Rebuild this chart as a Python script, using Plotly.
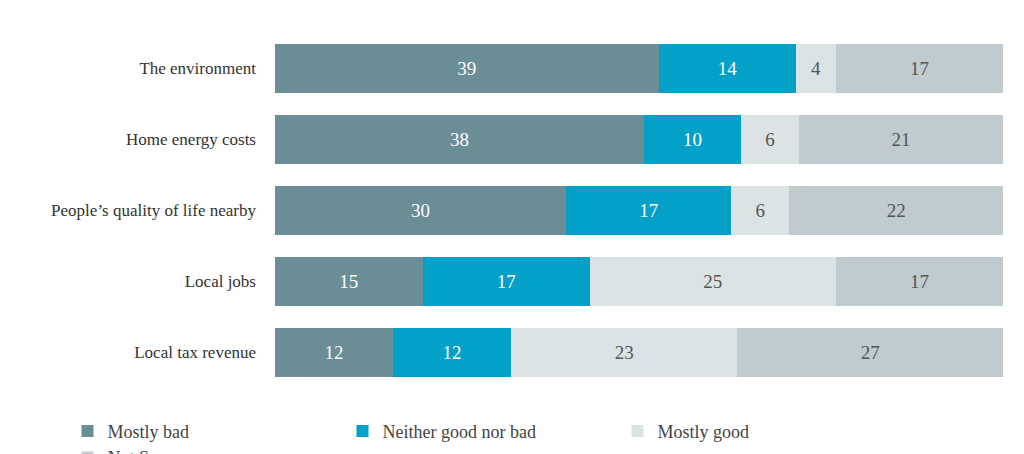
import plotly.graph_objects as go

categories = ["The environment", "Home energy costs", "People’s quality of life nearby",
              "Local jobs", "Local tax revenue"]
mostly_bad = [39, 38, 30, 15, 12]
neither = [14, 10, 17, 17, 12]
mostly_good = [4, 6, 6, 25, 23]
not_sure = [17, 21, 22, 17, 27]

series = [
    ("Mostly bad", mostly_bad, "#6b8d95", "white"),
    ("Neither good nor bad", neither, "#03a0c8", "white"),
    ("Mostly good", mostly_good, "#dbe3e5", "#555555"),
    ("Not Sure", not_sure, "#bfcbcf", "#555555"),
]

fig = go.Figure()
for name, vals, color, tcolor in series:
    fig.add_trace(go.Bar(
        y=categories, x=vals, name=name, orientation="h",
        marker=dict(color=color, line=dict(width=0)),
        text=[str(v) for v in vals], textposition="inside",
        insidetextanchor="middle",
        textfont=dict(color=tcolor, size=19, family="Liberation Serif"),
        hoverinfo="skip",
    ))

fig.update_layout(
    barmode="stack", barnorm="percent",
    width=1024, height=454,
    paper_bgcolor="white", plot_bgcolor="white",
    margin=dict(l=267, r=29, t=25, b=74, autoexpand=False),
    bargap=0.31,
    font=dict(family="Liberation Serif", size=17, color="#333333"),
    uniformtext=dict(mode="show", minsize=17),
    legend=dict(orientation="h", x=-0.285, xanchor="left", y=-0.07, yanchor="top",
                entrywidth=230, entrywidthmode="pixels",
                font=dict(size=18, color="#444444"), traceorder="normal"),
    showlegend=True,
)
fig.update_xaxes(visible=False, range=[0, 100])
fig.update_yaxes(autorange="reversed", showline=False, ticks="", ticklabelstandoff=18,
                 tickfont=dict(size=17, color="#333333"))

fig.write_html("out.html")
